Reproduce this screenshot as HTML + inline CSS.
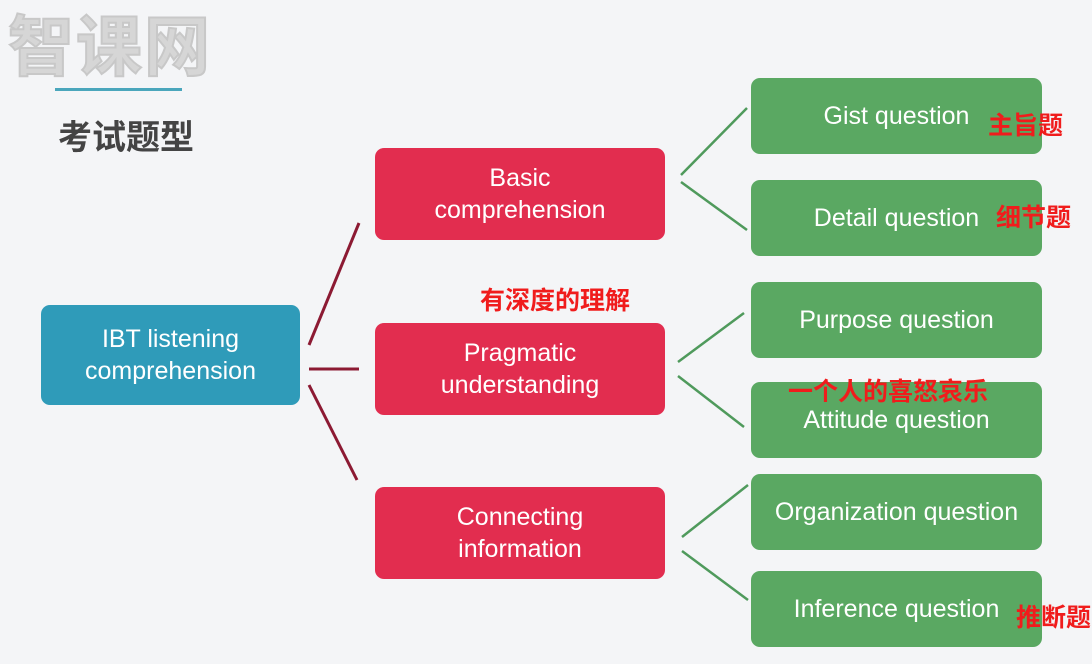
<!DOCTYPE html>
<html><head><meta charset="utf-8"><style>
body{margin:0;width:1092px;height:664px;background:#f4f5f7;position:relative;overflow:hidden;font-family:"Liberation Sans","Noto Sans CJK SC",sans-serif}
.b{position:absolute;border-radius:9px;color:#fff;display:flex;align-items:center;justify-content:center;text-align:center;font-size:25px;line-height:32px;white-space:nowrap}
.r{background:#e22d4f;left:375px;width:290px;height:92px}
.g{background:#5aa862;left:751px;width:291px;height:76px}
.a{position:absolute;color:#f01c1c;font-weight:bold;font-size:25px;white-space:nowrap}
</style></head><body>
<div style="position:absolute;left:8px;top:-6px;font-size:66px;font-weight:bold;color:#d6d6d6;letter-spacing:2px;-webkit-text-stroke:2px #c8c8c8">智课网</div>
<div style="position:absolute;left:55px;top:88px;width:127px;height:3px;background:#4aa6bc"></div>
<div style="position:absolute;left:58px;top:110px;font-size:34px;font-weight:bold;color:#444">考试题型</div>
<svg width="1092" height="664" style="position:absolute;left:0;top:0">
<g stroke="#8c1a33" stroke-width="3"><line x1="309" y1="345" x2="359" y2="223"/><line x1="309" y1="369" x2="359" y2="369"/><line x1="309" y1="385" x2="357" y2="480"/></g>
<g stroke="#4f9a5c" stroke-width="2.5"><line x1="681" y1="175" x2="747" y2="108"/><line x1="681" y1="182" x2="747" y2="230"/><line x1="678" y1="362" x2="744" y2="313"/><line x1="678" y1="376" x2="744" y2="427"/><line x1="682" y1="537" x2="748" y2="485"/><line x1="682" y1="551" x2="748" y2="600"/></g>
</svg>
<div class="b" style="background:#2f9bb9;left:41px;top:305px;width:259px;height:100px">IBT listening<br>comprehension</div>
<div class="b r" style="top:148px">Basic<br>comprehension</div>
<div class="b r" style="top:323px">Pragmatic<br>understanding</div>
<div class="b r" style="top:487px">Connecting<br>information</div>
<div class="b g" style="top:78px">Gist question</div>
<div class="b g" style="top:180px">Detail question</div>
<div class="b g" style="top:282px">Purpose question</div>
<div class="b g" style="top:382px">Attitude question</div>
<div class="b g" style="top:474px">Organization question</div>
<div class="b g" style="top:571px">Inference question</div>
<div class="a" style="left:988px;top:106px">主旨题</div>
<div class="a" style="left:996px;top:198px">细节题</div>
<div class="a" style="left:480px;top:281px">有深度的理解</div>
<div class="a" style="left:788px;top:372px">一个人的喜怒哀乐</div>
<div class="a" style="left:1016px;top:598px">推断题</div>
</body></html>
